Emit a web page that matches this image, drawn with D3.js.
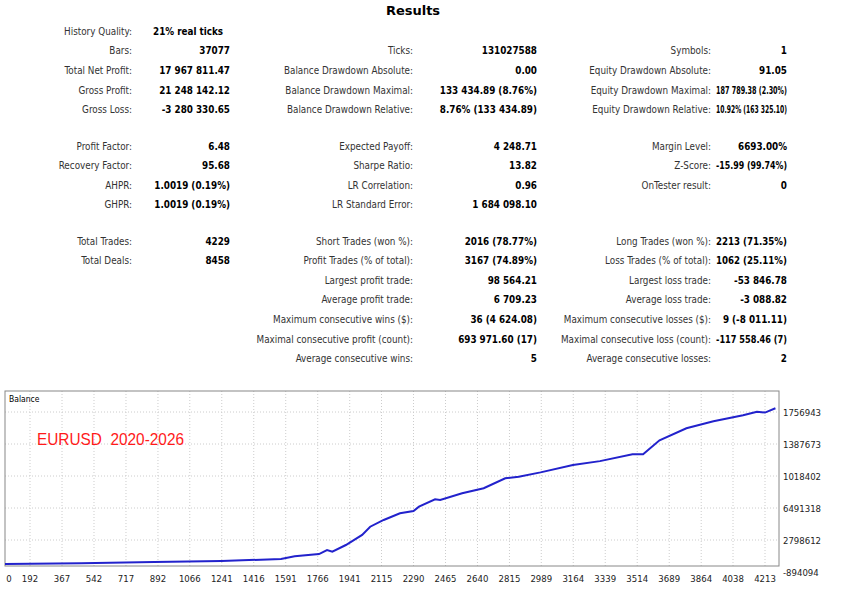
<!DOCTYPE html>
<html><head><meta charset="utf-8">
<script src="https://cdn.jsdelivr.net/npm/d3@7"></script>
<style>body{margin:0;background:#fff}svg{display:block}</style>
</head><body>
<div id="chart"></div>
<script>
// report table: [label, value, row y]
const col1 = [["History Quality:", "21% real ticks", 31], ["Bars:", "37077", 50], ["Total Net Profit:", "17 967 811.47", 70],
  ["Gross Profit:", "21 248 142.12", 90], ["Gross Loss:", "-3 280 330.65", 109],
  ["Profit Factor:", "6.48", 146], ["Recovery Factor:", "95.68", 165], ["AHPR:", "1.0019 (0.19%)", 185], ["GHPR:", "1.0019 (0.19%)", 204],
  ["Total Trades:", "4229", 241], ["Total Deals:", "8458", 260]];
const col2 = [["Ticks:", "131027588", 50], ["Balance Drawdown Absolute:", "0.00", 70], ["Balance Drawdown Maximal:", "133 434.89 (8.76%)", 90],
  ["Balance Drawdown Relative:", "8.76% (133 434.89)", 109], ["Expected Payoff:", "4 248.71", 146], ["Sharpe Ratio:", "13.82", 165],
  ["LR Correlation:", "0.96", 185], ["LR Standard Error:", "1 684 098.10", 204], ["Short Trades (won %):", "2016 (78.77%)", 241],
  ["Profit Trades (% of total):", "3167 (74.89%)", 260], ["Largest profit trade:", "98 564.21", 280], ["Average profit trade:", "6 709.23", 299],
  ["Maximum consecutive wins ($):", "36 (4 624.08)", 319], ["Maximal consecutive profit (count):", "693 971.60 (17)", 339],
  ["Average consecutive wins:", "5", 358]];
const col3 = [["Symbols:", "1", 50], ["Equity Drawdown Absolute:", "91.05", 70], ["Equity Drawdown Maximal:", "187 789.38 (2.30%)", 90],
  ["Equity Drawdown Relative:", "10.92% (163 325.10)", 109], ["Margin Level:", "6693.00%", 146], ["Z-Score:", "-15.99 (99.74%)", 165],
  ["OnTester result:", "0", 185], ["Long Trades (won %):", "2213 (71.35%)", 241], ["Loss Trades (% of total):", "1062 (25.11%)", 260],
  ["Largest loss trade:", "-53 846.78", 280], ["Average loss trade:", "-3 088.82", 299], ["Maximum consecutive losses ($):", "9 (-8 011.11)", 319],
  ["Maximal consecutive loss (count):", "-117 558.46 (7)", 339], ["Average consecutive losses:", "2", 358]];

// balance curve
const trades = [0, 471, 870, 1240, 1565, 1640, 1773, 1817, 1846, 1920, 2009, 2053, 2127, 2216, 2290, 2320, 2408, 2436, 2556, 2674, 2792, 2866, 2985, 3162, 3310, 3488, 3546, 3636, 3783, 3931, 4093, 4169, 4213, 4270];
const balance = [30000, 110000, 260000, 375000, 606000, 918000, 1180000, 1640000, 1450000, 2220000, 3380000, 4330000, 5110000, 5880000, 6140000, 6640000, 7490000, 7410000, 8190000, 8770000, 9920000, 10100000, 10600000, 11450000, 11900000, 12700000, 12700000, 14300000, 15690000, 16500000, 17200000, 17600000, 17500000, 18000000];
const xTicks = [0, 192, 367, 542, 717, 892, 1066, 1241, 1416, 1591, 1766, 1941, 2115, 2290, 2465, 2640, 2815, 2989, 3164, 3339, 3514, 3689, 3864, 4038, 4213];
const yTicks = [-894094, 2798612, 6491318, 10184024, 13876730, 17569436];
const yTickLabels = ["-894094", "2798612", "6491318", "1018402", "1387673", "1756943"];

const W = 846, H = 589;
const svg = d3.select("#chart").append("svg").attr("width", W).attr("height", H)
  .style("font-family", "'DejaVu Sans Condensed', 'DejaVu Sans', sans-serif");

svg.append("text").attr("x", 413).attr("y", 15).attr("text-anchor", "middle")
  .style("font-family", "'DejaVu Sans', sans-serif")
  .style("font-size", "13px").style("font-weight", "bold").text("Results");

function block(rows, lx, vx, maxW) {
  const g = svg.append("g").style("font-size", "9.8px");
  rows.forEach(r => {
    g.append("text").attr("x", lx).attr("y", r[2] + 3.5).attr("text-anchor", "end").attr("fill", "#333").text(r[0]);
    const v = g.append("text").attr("x", vx).attr("y", r[2] + 3.5).attr("text-anchor", "end")
      .style("font-weight", "bold").text(r[1]);
    if (v.node().getComputedTextLength() > maxW) v.attr("textLength", maxW).attr("lengthAdjust", "spacingAndGlyphs");
  });
}
block(col1, 132, 230, 200);
svg.selectAll("text").filter(function () { return d3.select(this).text() == "21% real ticks"; })
  .attr("x", 153).attr("text-anchor", "start");
block(col2, 413, 537, 112);
block(col3, 711, 787, 71);

// chart
const px0 = 5, px1 = 779, py0 = 391, py1 = 566;
const x = d3.scaleLinear().domain([367, 4213]).range([62, 765]);
const y = d3.scaleLinear().domain([-894094, 17569436]).range([572, 412]);

svg.append("defs").append("clipPath").attr("id", "clip").append("rect")
  .attr("x", px0).attr("y", py0).attr("width", px1 - px0).attr("height", py1 - py0);

const grid = svg.append("g").attr("clip-path", "url(#clip)").attr("stroke", "#ccc").attr("stroke-dasharray", "1,2");
grid.selectAll(".vx").data(xTicks).join("line").attr("x1", d => x(d)).attr("x2", d => x(d)).attr("y1", py0).attr("y2", py1);
grid.selectAll(".hy").data(yTicks).join("line").attr("x1", px0).attr("x2", px1).attr("y1", d => y(d)).attr("y2", d => y(d));

svg.append("rect").attr("x", px0).attr("y", py0).attr("width", px1 - px0).attr("height", py1 - py0)
  .attr("fill", "none").attr("stroke", "#888");

const line = d3.line().x(d => x(d[0])).y(d => y(d[1]));
svg.append("path").attr("clip-path", "url(#clip)").datum(trades.map((t, i) => [t, balance[i]]))
  .attr("d", line).attr("fill", "none").attr("stroke", "#2222cc").attr("stroke-width", 2);

svg.append("g").style("font-size", "9.5px").selectAll("text").data(xTicks).join("text")
  .attr("x", d => Math.max(x(d), 9)).attr("y", 582).attr("text-anchor", "middle").attr("fill", "#222").text(d => d);
svg.append("g").style("font-size", "9.5px").selectAll("text").data(yTicks).join("text")
  .attr("x", 783).attr("y", d => y(d) + 3.5).attr("fill", "#222").text((d, i) => yTickLabels[i]);

svg.append("text").attr("x", 9).attr("y", 402).style("font-size", "8.5px").text("Balance");
svg.append("text").attr("x", 37).attr("y", 445).attr("fill", "#ff1a1a")
  .style("font-family", "'Liberation Sans', sans-serif").style("font-size", "17px")
  .attr("textLength", 147).attr("lengthAdjust", "spacingAndGlyphs")
  .style("white-space", "pre").text("EURUSD  2020-2026");
</script>
</body></html>
